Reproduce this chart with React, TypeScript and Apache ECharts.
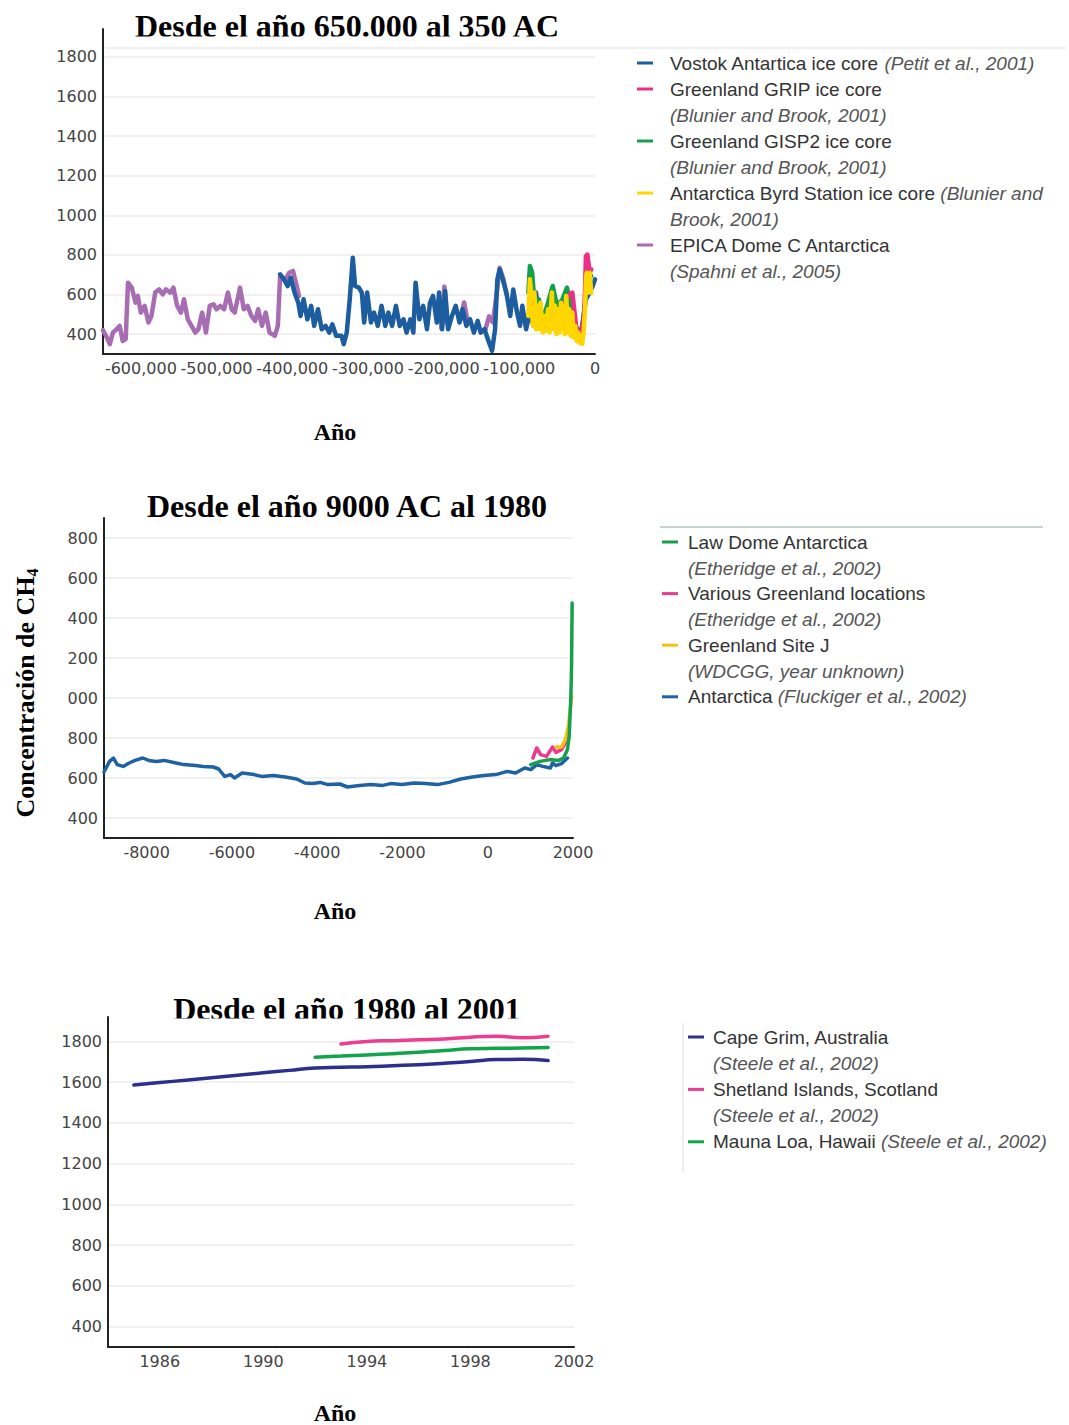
import React, { useEffect, useRef } from "react";
import * as echarts from "echarts";

// ---------- Panel 1: ice cores, 650,000 years (CH4, ppb) ----------
const p1Title = "Desde el año 650.000 al 350 AC";
const p1Names = [
  "Vostok Antartica ice core",
  "Greenland GRIP ice core",
  "Greenland GISP2 ice core",
  "Antarctica Byrd Station ice core",
  "EPICA Dome C Antarctica",
];
const p1Cites = [
  "(Petit et al., 2001)",
  "(Blunier and Brook, 2001)",
  "(Blunier and Brook, 2001)",
  "(Blunier and Brook, 2001)",
  "(Spahni et al., 2005)",
];
const p1XTicks = [-600000, -500000, -400000, -300000, -200000, -100000, 0];

const vostok: [number, number][] = [
  [-416000, 702], [-411000, 677], [-406000, 643], [-402000, 685], [-397000, 610], [-392000, 559],
  [-389000, 492], [-385000, 576], [-380000, 475], [-375000, 543], [-371000, 442], [-366000, 526],
  [-361000, 425], [-356000, 442], [-351000, 408], [-347000, 450], [-342000, 392], [-335000, 392],
  [-332000, 350], [-328000, 408], [-324000, 576], [-320000, 786], [-317000, 643], [-312000, 635],
  [-308000, 610], [-305000, 459], [-301000, 610], [-296000, 459], [-292000, 509], [-287000, 442],
  [-282000, 543], [-277000, 442], [-273000, 509], [-268000, 442], [-263000, 543], [-258000, 442],
  [-253000, 475], [-249000, 408], [-244000, 475], [-240000, 408], [-237000, 660], [-232000, 475],
  [-227000, 543], [-222000, 425], [-218000, 559], [-214000, 593], [-209000, 459], [-206000, 610],
  [-202000, 425], [-198000, 618], [-194000, 425], [-189000, 492], [-184000, 543], [-179000, 459],
  [-175000, 526], [-170000, 442], [-165000, 475], [-160000, 408], [-155000, 467], [-151000, 408],
  [-146000, 425], [-140000, 358], [-136000, 316], [-132000, 425], [-129000, 677], [-126000, 727],
  [-122000, 677], [-117000, 610], [-112000, 492], [-108000, 626], [-103000, 509], [-99000, 442],
  [-96000, 543], [-91000, 425], [-86000, 509], [-81000, 442], [-78000, 610], [-73000, 442],
  [-67000, 459], [-62000, 425], [-56000, 576], [-50000, 442], [-44000, 543], [-40000, 459],
  [-33000, 425], [-27000, 392], [-22000, 375], [-17000, 442], [-12000, 576], [-7000, 610],
  [-3000, 643], [0, 677],
];
const grip: [number, number][] = [
  [-41000, 543], [-36000, 593], [-30000, 610], [-25000, 442], [-19000, 375], [-14000, 509],
  [-12000, 794], [-10000, 802], [-7000, 710], [-5000, 727],
];
const gisp2: [number, number][] = [
  [-88000, 610], [-86000, 744], [-83000, 710], [-79000, 509], [-74000, 576], [-69000, 475],
  [-62000, 559], [-56000, 643], [-50000, 543], [-43000, 576], [-37000, 635], [-31000, 526],
  [-24000, 425], [-17000, 408], [-12000, 610], [-8000, 710], [-5000, 693],
];
const byrd: [number, number][] = [
  [-88000, 492], [-86000, 677], [-84000, 576], [-82000, 442], [-80000, 610], [-78000, 425],
  [-76000, 543], [-74000, 425], [-72000, 559], [-69000, 408], [-67000, 492], [-65000, 417],
  [-62000, 526], [-60000, 408], [-57000, 610], [-55000, 425], [-53000, 543], [-51000, 400],
  [-49000, 526], [-47000, 408], [-45000, 559], [-44000, 425], [-42000, 543], [-40000, 400],
  [-38000, 593], [-36000, 408], [-34000, 526], [-32000, 392], [-30000, 509], [-28000, 383],
  [-26000, 442], [-24000, 366], [-22000, 408], [-21000, 358], [-19000, 392], [-17000, 350],
  [-15000, 408], [-13000, 543], [-12000, 677], [-11000, 710], [-9000, 610], [-7000, 710],
  [-5000, 610],
];
const epica: [number, number | null][] = [
  [-650000, 420], [-646000, 392], [-641000, 350], [-637000, 408], [-632000, 425], [-628000, 442],
  [-624000, 366], [-620000, 375], [-617000, 660], [-612000, 635], [-607000, 559], [-604000, 593],
  [-600000, 509], [-595000, 543], [-590000, 459], [-586000, 492], [-581000, 610], [-576000, 626],
  [-571000, 601], [-567000, 626], [-561000, 610], [-557000, 635], [-552000, 543], [-547000, 509],
  [-543000, 576], [-538000, 475], [-533000, 442], [-528000, 408], [-524000, 425], [-519000, 509],
  [-514000, 408], [-509000, 543], [-504000, 551], [-500000, 526], [-495000, 543], [-490000, 526],
  [-485000, 610], [-480000, 526], [-476000, 509], [-469000, 635], [-464000, 526], [-459000, 543],
  [-454000, 492], [-449000, 467], [-445000, 526], [-440000, 442], [-435000, 509], [-430000, 408],
  [-423000, 392], [-419000, 442], [-416000, 693], [-409000, 677], [-404000, 710], [-399000, 719],
  [-394000, 643], [-391000, 593], [-389000, null],
  [-203000, 430], [-199000, 640], [-195000, 450], [-190000, null],
  [-178000, 470], [-173000, 560], [-168000, 460], [-164000, null],
  [-145000, 420], [-140000, 490], [-135000, 460], [-130000, 600], [-126000, 735], [-121000, 680],
  [-117000, 600],
];

// ---------- Panel 2: Holocene, 9000 BC to 1980 ----------
const p2Title = "Desde el año 9000 AC al 1980";
const p2Names = ["Law Dome Antarctica", "Various Greenland locations", "Greenland Site J", "Antarctica"];
const p2Cites = ["(Etheridge et al., 2002)", "(Etheridge et al., 2002)", "(WDCGG, year unknown)", "(Fluckiger et al., 2002)"];
const p2XTicks = [-8000, -6000, -4000, -2000, 0, 2000];

const antarctica: [number, number][] = [
  [-9000, 630], [-8870, 683], [-8780, 700], [-8690, 667], [-8550, 658], [-8410, 675], [-8270, 688],
  [-8090, 700], [-7950, 688], [-7770, 683], [-7590, 688], [-7310, 675], [-7130, 667], [-6860, 662],
  [-6670, 658], [-6440, 655], [-6310, 645], [-6170, 608], [-6030, 617], [-5940, 600], [-5760, 625],
  [-5480, 617], [-5300, 608], [-5030, 613], [-4750, 605], [-4480, 595], [-4290, 575], [-4110, 572],
  [-3930, 578], [-3750, 567], [-3470, 570], [-3290, 555], [-3010, 562], [-2740, 567], [-2460, 563],
  [-2280, 572], [-2010, 567], [-1730, 575], [-1460, 572], [-1180, 567], [-910, 578], [-630, 595],
  [-360, 605], [-90, 612], [190, 617], [460, 633], [650, 625], [870, 650], [1010, 642], [1150, 667],
  [1290, 658], [1470, 650], [1520, 675], [1600, 662], [1730, 672], [1870, 700],
];
const lawDome: [number, number][] = [
  [1010, 667], [1230, 683], [1450, 692], [1660, 688], [1780, 700], [1870, 742], [1910, 808],
  [1950, 1008], [1965, 1150], [1980, 1475],
];
const greenlandVarious: [number, number][] = [
  [1060, 700], [1150, 750], [1240, 717], [1380, 708], [1520, 755], [1600, 728], [1730, 742],
  [1820, 775], [1890, 808],
];
const siteJ: [number, number][] = [
  [1600, 755], [1730, 755], [1820, 792], [1890, 858], [1935, 942], [1970, 1008],
];

// ---------- Panel 3: monitoring stations, 1985 to 2001 ----------
const p3Title = "Desde el año 1980 al 2001";
const p3Names = ["Cape Grim, Australia", "Shetland Islands, Scotland", "Mauna Loa, Hawaii"];
const p3Cites = ["(Steele et al., 2002)", "(Steele et al., 2002)", "(Steele et al., 2002)"];
const p3XTicks = [1986, 1990, 1994, 1998, 2002];

const capeGrimYears = [1985, 1986, 1987, 1988, 1989, 1990, 1991, 1992, 1993, 1994, 1995, 1996, 1997, 1998, 1999, 2000, 2001];
const capeGrimValues = [1586, 1598, 1610, 1622, 1634, 1646, 1658, 1670, 1673, 1676, 1681, 1686, 1693, 1701, 1711, 1712, 1706];
const shetlandYears = [1993, 1994, 1995, 1996, 1997, 1998, 1999, 2000, 2001];
const shetlandValues = [1788, 1800, 1804, 1808, 1812, 1821, 1825, 1818, 1826];
const maunaLoaYears = [1992, 1993, 1994, 1995, 1996, 1997, 1998, 1999, 2000, 2001];
const maunaLoaValues = [1723, 1728, 1734, 1740, 1747, 1756, 1764, 1766, 1768, 1770];

const yTicks = [400, 600, 800, 1000, 1200, 1400, 1600, 1800];
const xName = "Año";
const yName = "Concentración de CH";

// ---------- styling ----------
const SERIF = "'Liberation Serif', 'Times New Roman', serif";
const SANS = "'Liberation Sans', Arial, sans-serif";
const TICK_FONT = "'DejaVu Sans', sans-serif";
const LEGEND_SIZE = 19;

const p1Colors = ["#1c5d9f", "#ec2f86", "#12a04b", "#ffd600", "#a86cb3"];
const p2Colors = ["#16a04c", "#ec3a8c", "#f5c018", "#1f62a3"];
const p3Colors = ["#2c308d", "#ec3d90", "#12a44d"];

const zip = (xs: number[], ys: number[]) => xs.map((x, i) => [x, ys[i]]);

function yAxisFor(gridIndex: number, max: number, formatter?: (v: number) => string) {
  return {
    gridIndex,
    type: "value",
    min: 300,
    max,
    axisLine: { show: true, onZero: false, lineStyle: { color: "#222", width: 2 } },
    axisTick: { show: false, customValues: yTicks },
    axisLabel: {
      customValues: yTicks,
      color: "#444",
      fontFamily: TICK_FONT,
      fontSize: 16,
      margin: 6,
      formatter: formatter ?? ((v: number) => String(v)),
    },
    splitLine: { show: true, lineStyle: { color: "#ececec", width: 1.5 } },
  };
}

function xAxisFor(gridIndex: number, min: number, max: number, ticks: number[], formatter: (v: number) => string) {
  return {
    gridIndex,
    type: "value",
    min,
    max,
    axisLine: { show: true, onZero: false, lineStyle: { color: "#222", width: 2 } },
    axisTick: { show: false, customValues: ticks },
    axisLabel: {
      customValues: ticks,
      color: "#444",
      fontFamily: TICK_FONT,
      fontSize: 16,
      margin: 6,
      formatter,
    },
    splitLine: { show: false },
  };
}

function line(name: string, data: any[], color: string, axis: number, width: number, z: number, smooth = false) {
  return {
    type: "line",
    name,
    data,
    xAxisIndex: axis,
    yAxisIndex: axis,
    showSymbol: false,
    symbol: "none",
    smooth,
    connectNulls: false,
    lineStyle: { color, width, join: "round", cap: "round" },
    itemStyle: { color },
    z,
    silent: true,
  };
}

const richStyles = (size: number) => ({
  n: { fontFamily: SANS, fontSize: size, fill: "#333", lineHeight: 26 },
  i: { fontFamily: SANS, fontSize: size, fill: "#555", fontStyle: "italic", lineHeight: 26 },
});

// legend block: swatch on each item's first line, wrapped text lines below it
function legendBlock(items: string[], colors: string[], x0: number, textX: number, firstY: number, step: number, size: number) {
  const els: any[] = [];
  let lineIdx = 0;
  items.forEach((txt, k) => {
    const cy = firstY + lineIdx * step;
    els.push({
      type: "line",
      shape: { x1: x0, y1: cy, x2: x0 + 16, y2: cy },
      style: { stroke: colors[k], lineWidth: 3 },
    });
    els.push({
      type: "text",
      x: textX,
      y: cy - 13,
      style: {
        text: txt,
        rich: richStyles(size),
        fontFamily: SANS,
        fontSize: size,
        lineHeight: 26,
        align: "left",
        verticalAlign: "top",
      },
    });
    lineIdx += txt.split("\n").length;
  });
  return els;
}

const NB = "\u00a0";
const legend1 = [
  `{n|${p1Names[0]}${NB}}{i|${p1Cites[0]}}`,
  `{n|${p1Names[1]}}\n{i|${p1Cites[1]}}`,
  `{n|${p1Names[2]}}\n{i|${p1Cites[2]}}`,
  `{n|${p1Names[3]}${NB}}{i|(Blunier and}\n{i|Brook, 2001)}`,
  `{n|${p1Names[4]}}\n{i|${p1Cites[4]}}`,
];
const legend2 = [
  `{n|${p2Names[0]}}\n{i|${p2Cites[0]}}`,
  `{n|${p2Names[1]}}\n{i|${p2Cites[1]}}`,
  `{n|${p2Names[2]}}\n{i|${p2Cites[2]}}`,
  `{n|${p2Names[3]}${NB}}{i|${p2Cites[3]}}`,
];
const legend3 = [
  `{n|${p3Names[0]}}\n{i|${p3Cites[0]}}`,
  `{n|${p3Names[1]}}\n{i|${p3Cites[1]}}`,
  `{n|${p3Names[2]}${NB}}{i|${p3Cites[2]}}`,
];

const titleText = (text: string, y: number) => ({
  type: "text",
  x: 347,
  y,
  style: {
    text,
    fill: "#000",
    fontFamily: SERIF,
    fontWeight: "bold",
    fontSize: 32,
    align: "center",
    verticalAlign: "middle",
  },
});

const axisNameText = (y: number) => ({
  type: "text",
  x: 335,
  y,
  style: {
    text: xName,
    fill: "#000",
    fontFamily: SERIF,
    fontWeight: "bold",
    fontSize: 24,
    align: "center",
    verticalAlign: "middle",
  },
});

const fmtThousands = (v: number) => (v === 0 ? "0" : v.toLocaleString("en-US"));

const option: any = {
  animation: false,
  backgroundColor: "#fff",
  grid: [
    { left: 103, top: 29, width: 492, height: 325 },
    { left: 104, top: 518, width: 469, height: 320 },
    { left: 108, top: 1017, width: 466, height: 330 },
  ],
  xAxis: [
    xAxisFor(0, -650000, 0, p1XTicks, fmtThousands),
    xAxisFor(1, -9000, 2000, p2XTicks, (v: number) => String(v)),
    xAxisFor(2, 1984, 2002, p3XTicks, (v: number) => String(v)),
  ],
  yAxis: [
    yAxisFor(0, 1940),
    yAxisFor(1, 1900, (v: number) => String(v).slice(-3)),
    yAxisFor(2, 1920),
  ],
  series: [
    line(p1Names[4], epica, p1Colors[4], 0, 4.5, 2),
    line(p1Names[0], vostok, p1Colors[0], 0, 4.5, 3),
    line(p1Names[2], gisp2, p1Colors[2], 0, 4.5, 4),
    line(p1Names[1], grip, p1Colors[1], 0, 4.5, 5),
    line(p1Names[3], byrd, p1Colors[3], 0, 4.5, 6),

    line(p2Names[3], antarctica, p2Colors[3], 1, 3.5, 2),
    line(p2Names[1], greenlandVarious, p2Colors[1], 1, 3.5, 3),
    line(p2Names[2], siteJ, p2Colors[2], 1, 3.5, 4),
    line(p2Names[0], lawDome, p2Colors[0], 1, 3.5, 5),

    line(p3Names[0], zip(capeGrimYears, capeGrimValues), p3Colors[0], 2, 3.5, 2, true),
    line(p3Names[1], zip(shetlandYears, shetlandValues), p3Colors[1], 2, 3.5, 3, true),
    line(p3Names[2], zip(maunaLoaYears, maunaLoaValues), p3Colors[2], 2, 3.5, 4, true),
  ],
  graphic: {
    elements: [
      // panel titles; the first and last are trimmed at the baseline by the plot frame
      titleText(p1Title, 26),
      { type: "rect", shape: { x: 125, y: 36.5, width: 450, height: 8 }, style: { fill: "#fff" } },
      titleText(p2Title, 506),
      titleText(p3Title, 1009),
      { type: "rect", shape: { x: 165, y: 1018.5, width: 370, height: 5 }, style: { fill: "#fff" } },

      { type: "line", shape: { x1: 105, y1: 48, x2: 1065, y2: 48 }, style: { stroke: "#f0f0f0", lineWidth: 2 } },

      axisNameText(432),
      axisNameText(911),
      axisNameText(1413),

      {
        type: "text",
        x: 25,
        y: 693,
        rotation: Math.PI / 2,
        style: {
          text: `{a|${yName}}{s|4}`,
          align: "center",
          verticalAlign: "middle",
          rich: {
            a: { fontFamily: SERIF, fontWeight: "bold", fontSize: 26, fill: "#000", lineHeight: 30 },
            s: { fontFamily: SERIF, fontWeight: "bold", fontSize: 16, fill: "#000", lineHeight: 30, verticalAlign: "bottom", padding: [8, 0, 0, 0] },
          },
        },
      },

      // legends
      ...legendBlock(legend1, p1Colors, 637, 670, 63, 26, LEGEND_SIZE),
      { type: "line", shape: { x1: 660, y1: 527, x2: 1043, y2: 527 }, style: { stroke: "#8fa8a8", lineWidth: 1 } },
      ...legendBlock(legend2, p2Colors, 662, 688, 542, 25.8, LEGEND_SIZE),
      { type: "line", shape: { x1: 683, y1: 1023, x2: 683, y2: 1172 }, style: { stroke: "#dcdcdc", lineWidth: 1 } },
      ...legendBlock(legend3, p3Colors, 688, 713, 1037, 26.2, LEGEND_SIZE),
    ],
  },
};

export default function App() {
  const ref = useRef<HTMLDivElement>(null);
  useEffect(() => {
    if (!ref.current) return;
    const chart = echarts.init(ref.current, null, { renderer: "svg" });
    chart.setOption(option);
    return () => chart.dispose();
  }, []);
  return (
    <div
      ref={ref}
      style={{ position: "absolute", left: 0, top: 0, width: 1069, height: 1425, background: "#fff" }}
    />
  );
}
